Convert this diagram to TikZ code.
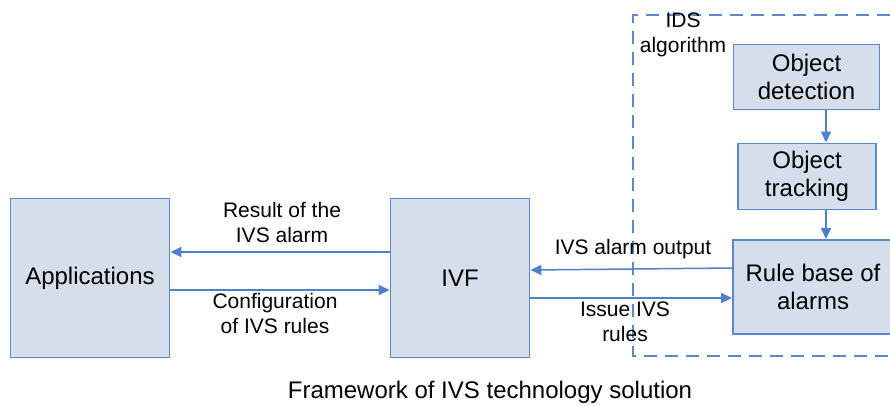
\documentclass[tikz,border=0pt]{standalone}
\usepackage{fontspec}
\setmainfont{Liberation Sans}
\usetikzlibrary{arrows.meta}
\definecolor{boxfill}{HTML}{D5DEEA}
\definecolor{boxline}{HTML}{5B88CB}
\definecolor{arrowline}{HTML}{4F80C9}
\tikzset{
  block/.style={draw=boxline, fill=boxfill, line width=1.9pt, inner sep=0pt,
    align=center, font=\fontsize{24}{28}\selectfont},
  flow/.style={draw=arrowline, line width=1.5pt, -{Triangle[length=11pt,width=10pt]}},
  lbl/.style={align=center, inner sep=0pt, font=\fontsize{21}{25}\selectfont},
  zone/.style={draw=boxline, line width=1.7pt, dash pattern=on 13pt off 8pt}
}
\begin{document}
\begin{tikzpicture}[x=1pt,y=-1pt]
\useasboundingbox (0,0) rectangle (890,405);
% IDS algorithm region
\draw[zone] (890,15) -- (633,15) -- (633,356) -- (890,356);
\node[lbl] (ids) at (683,35) {IDS\\algorithm};
% main blocks
\node[block, minimum width=159pt, minimum height=159pt] (app) at (90,278) {Applications};
\node[block, minimum width=139pt, minimum height=159pt] (ivf) at (460,278) {IVF};
\node[block, minimum width=146pt, minimum height=65pt] (det) at (806.5,77) {Object\\detection};
\node[block, minimum width=138pt, minimum height=66pt] (trk) at (807,176.5) {Object\\tracking};
\node[block, minimum width=160pt, minimum height=94pt] (rule) at (813,287) {Rule base of\\alarms};
% connectors
\draw[flow] (ivf.west |- 0,252) -- (app.east |- 0,252);
\draw[flow] (app.east |- 0,290) -- (ivf.west |- 0,290);
\draw[flow] (rule.west |- 0,268) -- (ivf.east |- 0,270);
\draw[flow] (ivf.east |- 0,298) -- (rule.west |- 0,298);
\draw[flow] (det.south -| 826,0) -- (trk.north -| 826,0);
\draw[flow] (trk.south -| 826,0) -- (rule.north -| 826,0);
% connector labels
\node[lbl] (l1) at (282,222) {Result of the\\IVS alarm};
\node[lbl] (l2) at (275,313) {Configuration\\of IVS rules};
\node[lbl] (l3) at (633,249) {IVS alarm output};
\node[lbl] (l4) at (625,322) {Issue IVS\\rules};
% caption
\node[lbl, font=\fontsize{24}{28}\selectfont] (cap) at (490,392) {Framework of IVS technology solution};
\end{tikzpicture}
\end{document}
